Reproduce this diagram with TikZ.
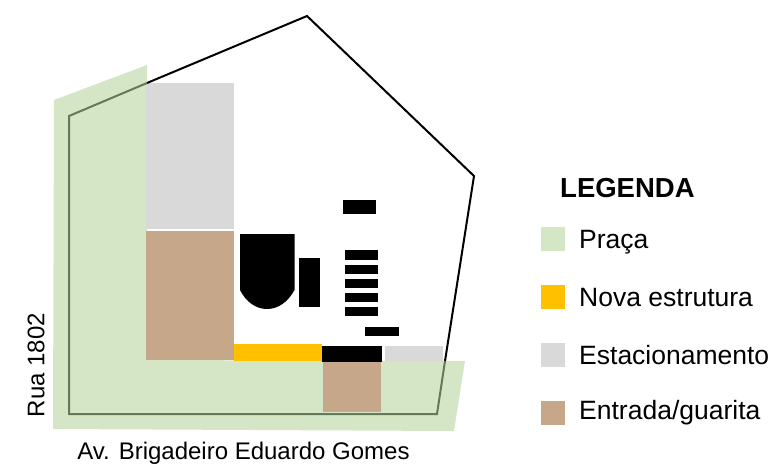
\documentclass[tikz,border=0pt]{standalone}
\usepackage{fontspec}
\setmainfont{Liberation Sans}
\definecolor{praca}{HTML}{D5E6C6}
\definecolor{novaest}{HTML}{FFC000}
\definecolor{estac}{HTML}{D9D9D9}
\definecolor{entrada}{HTML}{C6A789}
\definecolor{wallgreen}{HTML}{64795A}
\tikzset{
  legtext/.style={anchor=west,inner sep=0pt,font=\fontsize{26.5}{28}\selectfont},
  swatch/.style={minimum width=24pt,minimum height=24pt,inner sep=0pt,draw=none},
  roadtext/.style={inner sep=0pt,font=\fontsize{24}{26}\selectfont},
  bldg/.style={fill=black,draw=none},
  wall/.style={line width=2pt,line join=miter}
}
\begin{document}
\begin{tikzpicture}[x=1pt,y=-1pt]
\useasboundingbox (0,0) rectangle (770,466);
% site
\fill[praca] (54,100) -- (147,65) -- (147,360) -- (465,361) -- (454,431) -- (53,429) -- cycle;
\fill[estac] (146,83) rectangle (233.5,229);
\fill[entrada] (146,230.5) rectangle (233.5,359.5);
\fill[novaest] (233.5,344) rectangle (322,361);
\fill[black] (322,346) rectangle (382,361.5);
\fill[estac] (385,346) rectangle (443,362);
\fill[entrada] (323,362) rectangle (381,412);
% boundary
\draw[wall,black] (147,83) -- (307,16) -- (474,176) -- (445,361);
\draw[wall,wallgreen] (445,361) -- (437,414) -- (69,414) -- (69,116) -- (147,83);
% buildings
\fill[bldg] (343,200) rectangle (375.5,214);
\fill[bldg] (344.5,250) rectangle (378,260);
\fill[bldg] (344.5,264.5) rectangle (378,274);
\fill[bldg] (344.5,279) rectangle (378,288);
\fill[bldg] (344.5,293) rectangle (378,302);
\fill[bldg] (344.5,307) rectangle (378,316);
\fill[bldg] (364.5,327) rectangle (398.5,336);
\fill[bldg] (299,258) rectangle (320,306.5);
\fill[bldg] (240,234) -- (294.5,234) -- (294.5,290) .. controls (288,302) and (278,309) .. (267,309) .. controls (256,309) and (246,302) .. (240,290) -- cycle;
% legend
\node[inner sep=0pt,anchor=west,font=\fontsize{27.5}{29}\selectfont\bfseries] (legtitle) at (560,188) {LEGENDA};
\node[swatch,fill=praca] (s1) at (553,239) {};
\node[swatch,fill=novaest] (s2) at (553,297) {};
\node[swatch,fill=estac] (s3) at (553,355) {};
\node[swatch,fill=entrada] (s4) at (553,413) {};
\node[legtext] (t1) at (579,242) {Praça};
\node[legtext] (t2) at (579,298) {Nova estrutura};
\node[legtext] (t3) at (579,355) {Estacionamento};
\node[legtext] (t4) at (579,413) {Entrada/guarita};
% roads
\node[roadtext,rotate=90] (r1) at (36,365) {Rua 1802};
\node[roadtext] (r2) at (243.5,453) {Av. Brigadeiro Eduardo Gomes};
\end{tikzpicture}
\end{document}
